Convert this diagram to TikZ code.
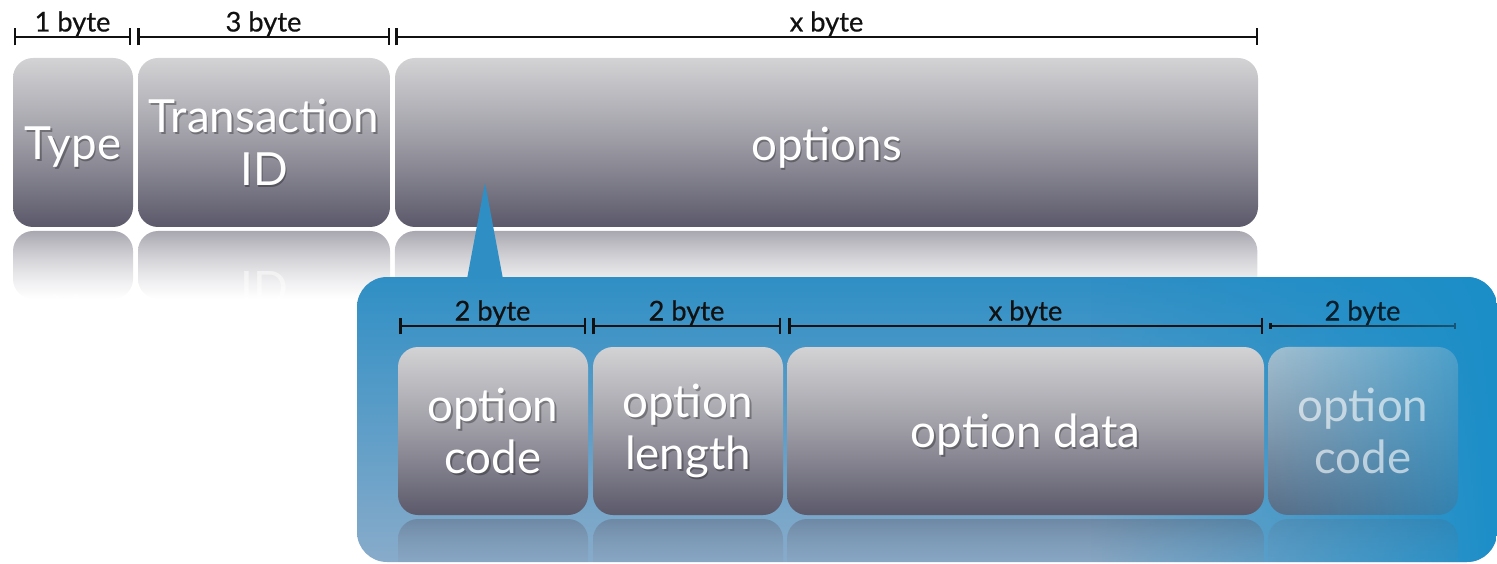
\documentclass[tikz,border=0pt]{standalone}
\usepackage{fontspec}
\setmainfont{Lato}
\newfontfamily\dimfont{Lato}[FakeBold=0.6]
\usetikzlibrary{fadings,arrows.meta}

\definecolor{boxtop}{HTML}{D3D3D5}
\definecolor{boxmid}{HTML}{9C9BA4}
\definecolor{boxbot}{HTML}{5B596A}
\definecolor{paneltop}{HTML}{2F8FC5}
\definecolor{panelbot}{HTML}{88ABCA}
\definecolor{panelright}{HTML}{1B8EC8}
\definecolor{dimink}{HTML}{111111}

% fadings for reflections, the ghosted field and its size bar
\tikzfading[name=reflfade, top color=transparent!47, bottom color=transparent!100]
\tikzfading[name=reflfadeb, top color=transparent!62, bottom color=transparent!100]
\tikzfading[name=ghostfade, left color=transparent!30, right color=transparent!75]
\tikzfading[name=dimfade, left color=transparent!0, right color=transparent!55]
\tikzfading[name=rightin, left color=transparent!100, right color=transparent!0]

\tikzset{
  field/.style={top color=boxtop, bottom color=boxbot, middle color=boxmid, rounded corners=0.4cm},
  fieldtext/.style={text=white, align=center, inner sep=0pt,
    font=\fontsize{26}{30}\selectfont},
  fieldshadow/.style={fieldtext, text=black, opacity=0.3},
  dim/.style={draw=dimink, line width=0.05cm,
    {Bar[width=0.34cm]}-{Bar[width=0.34cm]}},
  dimlabel/.style={anchor=base, yshift=0.11cm, inner sep=0pt, text=dimink,
    font=\dimfont\fontsize{15.5}{18}\selectfont},
}

% #1 name, #2 x1, #3 y1, #4 x2, #5 y2, #6 label, #7 vertical nudge of the label
\newcommand\fieldbox[7]{%
  \shade[field] (#2,#3) rectangle (#4,#5);
  \node[fieldshadow] (#1-sh) at ({(#2+#4)/2+1.5},{(#3+#5)/2+2+#7}) {#6};
  \node[fieldtext] (#1) at ({(#2+#4)/2},{(#3+#5)/2+#7}) {#6};
}
% #1 x1, #2 top, #3 x2, #4 height, #5 fading
\newcommand\fieldrefl[5]{%
  \shade[top color=boxbot, bottom color=boxmid, rounded corners=0.4cm,
    path fading=#5] (#1,#2) rectangle (#3,{#2+#4});
}
% #1 name, #2 x, #3 y, #4 text, #5 opacity
\newcommand\mirrortext[5]{%
  \begin{scope}[shift={(#2,#3)}, yscale=-1]
    \node[fieldtext, transform shape, opacity=#5] (#1) at (0,0) {#4};
  \end{scope}
}

\begin{document}
\begin{tikzpicture}[x=0.02cm, y=-0.02cm]
\useasboundingbox (0,0) rectangle (1497,564);

% ---------- message header ----------
\coordinate (t1a) at (14,37);   \coordinate (t1b) at (131,37);
\coordinate (t2a) at (137,37);  \coordinate (t2b) at (390,37);
\coordinate (t3a) at (395,37);  \coordinate (t3b) at (1258,37);
\draw[dim] (t1a) -- node[dimlabel] (lt1) {1 byte} (t1b);
\draw[dim] (t2a) -- node[dimlabel] (lt2) {3 byte} (t2b);
\draw[dim] (t3a) -- node[dimlabel] (lt3) {x byte} (t3b);

\fieldrefl{13}{231}{133}{68}{reflfade}
\fieldrefl{138}{231}{390}{68}{reflfade}
\fieldrefl{395}{231}{1258}{68}{reflfade}
\mirrortext{typem}{73}{315}{Type}{0.5}
\mirrortext{tidm}{264}{315}{Transaction\\ID}{0.5}

\fieldbox{type}{13}{58}{133}{227}{Type}{5}
\fieldbox{tid}{138}{58}{390}{227}{Transaction\\ID}{0}
\fieldbox{opts}{395}{58}{1258}{227}{options}{5}

% ---------- expanded options panel ----------
\fill[paneltop] (467,279) -- (485,183) -- (503,279) -- cycle;
\shade[top color=paneltop, bottom color=panelbot, rounded corners=0.6cm]
  (357,277) rectangle (1497,562);
\begin{scope}
  \clip[rounded corners=0.6cm] (357,277) rectangle (1497,562);
  \fill[panelright, path fading=rightin] (1090,270) rectangle (1500,570);
  % reflections of the option fields
  \fieldrefl{398}{519}{588}{62}{reflfadeb}
  \fieldrefl{593}{519}{783}{62}{reflfadeb}
  \fieldrefl{787}{519}{1264}{62}{reflfadeb}
  \begin{scope}[opacity=0.45]
    \fieldrefl{1268}{519}{1458}{62}{reflfadeb}
  \end{scope}
\end{scope}

\coordinate (i1a) at (399,326);  \coordinate (i1b) at (586,326);
\coordinate (i2a) at (592,326);  \coordinate (i2b) at (781,326);
\coordinate (i3a) at (788,326);  \coordinate (i3b) at (1263,326);
\coordinate (i4a) at (1269,326); \coordinate (i4b) at (1456,326);
\draw[dim] (i1a) -- node[dimlabel] (li1) {2 byte} (i1b);
\draw[dim] (i2a) -- node[dimlabel] (li2) {2 byte} (i2b);
\draw[dim] (i3a) -- node[dimlabel] (li3) {x byte} (i3b);
\draw[dim, path fading=dimfade] (i4a) -- (i4b);
\path (i4a) -- node[dimlabel, text=black!78!panelright] (li4) {2 byte} (i4b);

\fieldbox{ocode}{398}{347}{588}{515}{option\\code}{0}
\fieldbox{olen}{593}{347}{783}{515}{option\\length}{0}
\fieldbox{odata}{787}{347}{1264}{515}{option data}{4}

% trailing field, ghosted into the panel
\shade[field, path fading=ghostfade] (1268,347) rectangle (1458,515);
\node[fieldtext, opacity=0.6] (ocode2) at (1363,431) {option\\code};
\end{tikzpicture}
\end{document}
